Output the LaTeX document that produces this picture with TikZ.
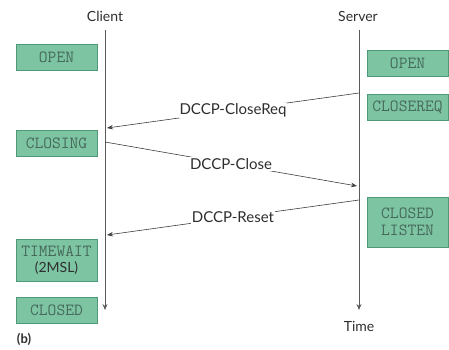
\documentclass[tikz,border=0pt]{standalone}
\usepackage{fontspec}
\setmainfont{Lato}
\usetikzlibrary{positioning,arrows.meta}
\definecolor{stfill}{HTML}{7DC4A3}
\definecolor{stline}{HTML}{4E9A78}
\definecolor{sttext}{HTML}{46695A}
\definecolor{lifeline}{HTML}{5A5A5A}
\definecolor{msgline}{HTML}{3C3C3C}
\definecolor{lbltext}{HTML}{2E2E2E}

\begin{document}
\begin{tikzpicture}[x=1pt, y=-1pt,
  state/.style={draw=stline, fill=stfill, line width=0.8pt, minimum width=81pt,
                minimum height=26pt, inner sep=0pt, align=center, text=sttext,
                font=\ttfamily\fontsize{17}{17}\selectfont},
  life/.style={-{Stealth[length=6pt, width=5pt]}, draw=lifeline, line width=0.8pt},
  msg/.style={-{Stealth[length=6pt, width=4.5pt]}, draw=msgline, line width=0.6pt},
  lbl/.style={fill=white, inner sep=1pt, text=lbltext, font=\fontsize{15}{17}\selectfont},
  head/.style={text=lbltext, font=\fontsize{14}{16}\selectfont},
]
  \useasboundingbox (0,0) rectangle (449,350);

  % ---- lifelines ------------------------------------------------------------
  \node[head] (client) at (105,16) {Client};
  \node[head] (server) at (358,16) {Server};
  \coordinate (ctop) at (105,30);
  \coordinate (cend) at (105,310);
  \coordinate (stop) at (359,30);
  \coordinate (send) at (359,310);
  \draw[life] (ctop) -- (cend);
  \draw[life] (stop) -- (send);
  \node[head, below=8pt of send] (time) {Time};

  % ---- client states --------------------------------------------------------
  \node[state] (copen) at (56.5,57.5) {OPEN};
  \node[state] (cclosing) at (56.5,143) {CLOSING};
  \node[state, minimum height=42pt] (ctimewait) at (56.5,260)
    {TIMEWAIT\\[-1pt]{\rmfamily\fontsize{14}{14}\selectfont\color{lbltext}(2MSL)}};
  \node[state] (cclosed) at (56.5,310) {CLOSED};

  % ---- server states --------------------------------------------------------
  \node[state] (sopen) at (407.5,63) {OPEN};
  \node[state] (scloseReq) at (407.5,107) {CLOSEREQ};
  \node[state, minimum height=50pt] (sclosed) at (407.5,222) {CLOSED\\LISTEN};

  % ---- messages -------------------------------------------------------------
  \coordinate (s1) at (359,93);
  \coordinate (c1) at (107,128);
  \coordinate (c2) at (105,142);
  \coordinate (s2) at (357,186);
  \coordinate (s3) at (359,200);
  \coordinate (c3) at (107,235);
  \draw[msg] (s1) -- node[lbl] (lreq) {DCCP-CloseReq} (c1);
  \draw[msg] (c2) -- node[lbl] (lclose) {DCCP-Close} (s2);
  \draw[msg] (s3) -- node[lbl] (lreset) {DCCP-Reset} (c3);

  \node[text=lbltext, font=\bfseries\fontsize{13}{15}\selectfont] (tag) at (24,339) {(b)};
\end{tikzpicture}
\end{document}
